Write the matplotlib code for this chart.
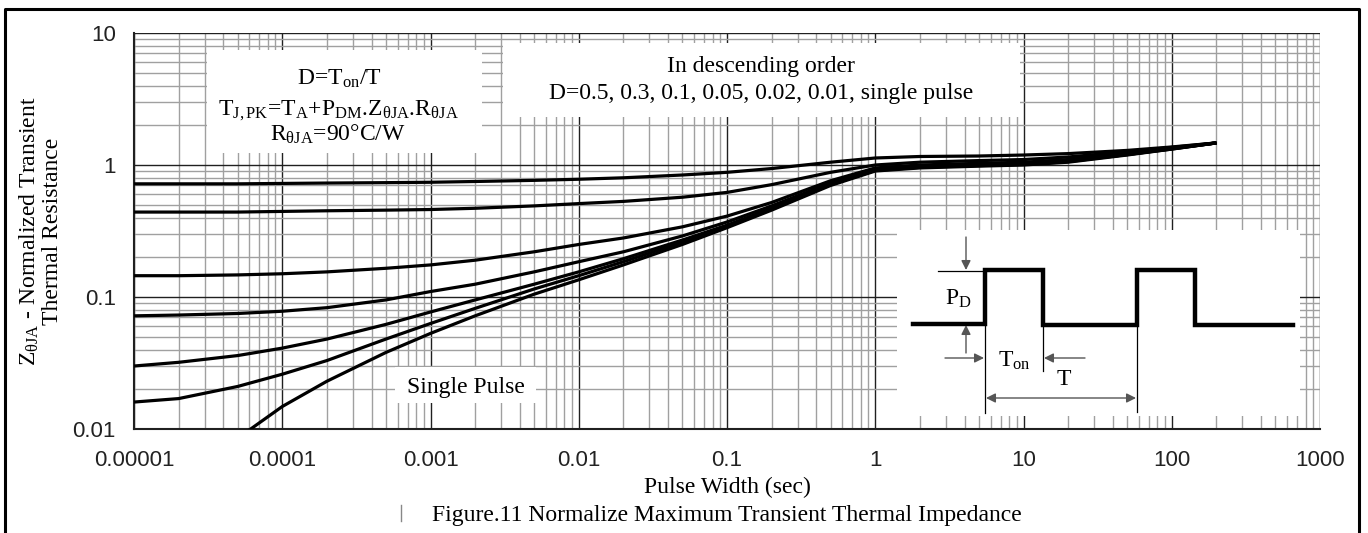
import numpy as np
import matplotlib.pyplot as plt
from matplotlib.patches import Rectangle
from matplotlib.lines import Line2D
from matplotlib.ticker import LogLocator, NullFormatter, FixedLocator, FixedFormatter

plt.rcParams['mathtext.fontset'] = 'custom'
plt.rcParams['mathtext.rm'] = 'Liberation Serif'
plt.rcParams['mathtext.it'] = 'Liberation Serif:italic'
plt.rcParams['mathtext.bf'] = 'Liberation Serif:bold'

# ---- data ----
pulse_width = [1e-5, 2e-5, 5e-5, 1e-4, 2e-4, 5e-4, 1e-3, 2e-3, 5e-3, 1e-2, 2e-2, 5e-2,
               0.1, 0.2, 0.5, 1, 2, 5, 10, 20, 50, 100, 200]
z_d050 = [0.72, 0.72, 0.72, 0.725, 0.73, 0.735, 0.74, 0.75, 0.765, 0.78, 0.80, 0.84,
          0.88, 0.94, 1.05, 1.13, 1.16, 1.17, 1.19, 1.22, 1.29, 1.37, 1.47]
z_d030 = [0.44, 0.44, 0.44, 0.445, 0.45, 0.455, 0.46, 0.47, 0.49, 0.51, 0.53, 0.57,
          0.62, 0.71, 0.88, 1.0, 1.05, 1.08, 1.1, 1.15, 1.26, 1.36, 1.47]
z_d010 = [0.145, 0.145, 0.147, 0.15, 0.155, 0.165, 0.175, 0.19, 0.22, 0.25, 0.28, 0.34,
          0.41, 0.52, 0.76, 0.95, 1.0, 1.03, 1.05, 1.1, 1.23, 1.34, 1.47]
z_d005 = [0.072, 0.073, 0.075, 0.078, 0.083, 0.095, 0.11, 0.125, 0.155, 0.185, 0.22, 0.29,
          0.37, 0.49, 0.73, 0.93, 0.98, 1.01, 1.03, 1.08, 1.21, 1.33, 1.47]
z_d002 = [0.030, 0.032, 0.036, 0.041, 0.048, 0.062, 0.077, 0.095, 0.125, 0.155, 0.195, 0.27,
          0.35, 0.47, 0.72, 0.92, 0.97, 1.0, 1.02, 1.07, 1.2, 1.33, 1.47]
z_d001 = [0.016, 0.017, 0.021, 0.026, 0.033, 0.048, 0.063, 0.082, 0.115, 0.145, 0.185, 0.26,
          0.345, 0.465, 0.71, 0.91, 0.96, 0.99, 1.01, 1.06, 1.2, 1.32, 1.47]
z_single = [0.0045, 0.006, 0.0085, 0.0148, 0.023, 0.038, 0.053, 0.072, 0.105, 0.135, 0.175, 0.25,
            0.335, 0.455, 0.70, 0.90, 0.95, 0.98, 1.0, 1.05, 1.19, 1.32, 1.47]
curves = [z_d050, z_d030, z_d010, z_d005, z_d002, z_d001, z_single]

x_ticks = [1e-5, 1e-4, 1e-3, 1e-2, 1e-1, 1, 10, 100, 1000]
x_labels = ['0.00001', '0.0001', '0.001', '0.01', '0.1', '1', '10', '100', '1000']
y_ticks = [0.01, 0.1, 1, 10]
y_labels = ['0.01', '0.1', '1', '10']

W, H = 1368, 533
L, R, T, B = 134, 1320, 33, 429
serif = 'Liberation Serif'
sans = 'Liberation Sans'


def fx(px):
    return px / W


def fy(py):
    return 1 - py / H


fig = plt.figure(figsize=(W / 100, H / 100), dpi=100)
ax = fig.add_axes([fx(L), fy(B), (R - L) / W, (B - T) / H])
ax.set_xscale('log')
ax.set_yscale('log')
ax.set_xlim(1e-5, 1000)
ax.set_ylim(0.01, 10)

ax.xaxis.set_major_locator(FixedLocator(x_ticks))
ax.xaxis.set_major_formatter(FixedFormatter(x_labels))
ax.yaxis.set_major_locator(FixedLocator(y_ticks))
ax.yaxis.set_major_formatter(FixedFormatter(y_labels))
for a in (ax.xaxis, ax.yaxis):
    a.set_minor_locator(LogLocator(base=10, subs=np.arange(2, 10), numticks=100))
    a.set_minor_formatter(NullFormatter())
ax.tick_params(which='both', length=0)
ax.tick_params(axis='x', pad=15, labelsize=16, labelcolor='#222222')
ax.tick_params(axis='y', pad=13, labelsize=16, labelcolor='#222222')
for lab in ax.get_xticklabels() + ax.get_yticklabels():
    lab.set_fontfamily(sans)

ax.set_axisbelow(True)
ax.grid(which='minor', color='#a0a0a0', lw=1.0)
ax.grid(which='major', color='#202020', lw=1.0)
for s in ('top', 'right'):
    ax.spines[s].set_visible(False)
for s in ('left', 'bottom'):
    ax.spines[s].set_linewidth(1.5)
    ax.spines[s].set_color('#202020')


def white_box(x0, y0, x1, y1):
    # pixel rectangle -> axes fraction
    ax.add_patch(Rectangle(((x0 - L) / (R - L), (B - y1) / (B - T)),
                           (x1 - x0) / (R - L), (y1 - y0) / (B - T),
                           transform=ax.transAxes, facecolor='white',
                           edgecolor='none', zorder=1))


white_box(207, 50, 482, 153)
white_box(503, 43, 1020, 117)
white_box(395, 367, 536, 403)

for z in curves:
    ax.plot(pulse_width, z, color='black', lw=2.3, zorder=3, solid_capstyle='butt')

fs = 17
fig.text(fx(339), fy(85), r'D=T$_\mathrm{on}$/T', ha='center', va='baseline',
         fontsize=fs, family=serif)
fig.text(fx(338), fy(115),
         r'T$_\mathrm{J,PK}$=T$_\mathrm{A}$+P$_\mathrm{DM}$.Z$_\mathrm{θJA}$.R$_\mathrm{θJA}$',
         ha='center', va='baseline', fontsize=fs, family=serif)
fig.text(fx(338), fy(141), r'R$_\mathrm{θJA}$=90°C/W', ha='center', va='baseline',
         fontsize=fs, family=serif)
fig.text(fx(761), fy(72), 'In descending order', ha='center', va='baseline',
         fontsize=fs, family=serif)
fig.text(fx(761), fy(99), 'D=0.5, 0.3, 0.1, 0.05, 0.02, 0.01, single pulse',
         ha='center', va='baseline', fontsize=fs, family=serif)
fig.text(fx(466), fy(393), 'Single Pulse', ha='center', va='baseline',
         fontsize=fs, family=serif)

fig.text(fx(40), fy(231), 'Z$_\\mathrm{θJA}$ - Normalized Transient\nThermal Resistance',
         rotation=90, ha='center', va='center', multialignment='center',
         fontsize=fs, family=serif, linespacing=1.05)
fig.text(fx(727), fy(487), 'Pulse Width (sec)', ha='center', va='center',
         fontsize=fs, family=serif)
fig.text(fx(727), fy(515), 'Figure.11 Normalize Maximum Transient Thermal Impedance',
         ha='center', va='center', fontsize=fs, family=serif)
fig.add_artist(Line2D([fx(401), fx(401)], [fy(505), fy(521)], color='#888888', lw=1))

# outer frame
fig.add_artist(Line2D([fx(5), fx(5), fx(1359), fx(1359)], [0, fy(9), fy(9), 0],
                      color='black', lw=2.2))

# ---- inset pulse diagram (its own pixel-like coordinate system) ----
ix0, ix1, iy0, iy1 = 897, 1300, 230, 416
ins = fig.add_axes([fx(ix0), fy(iy1), (ix1 - ix0) / W, (iy1 - iy0) / H])
ins.set_xlim(ix0, ix1)
ins.set_ylim(iy1, iy0)
ins.set_facecolor('white')
ins.set_xticks([])
ins.set_yticks([])
for s in ins.spines.values():
    s.set_visible(False)

wave_x = [913, 985, 985, 1043, 1043, 1137, 1137, 1195, 1195, 1293]
wave_y = [324, 324, 270, 270, 325, 325, 270, 270, 325, 325]
ins.plot(wave_x, wave_y, color='black', lw=3.2, solid_joinstyle='miter')

thin = dict(color='black', lw=0.9)
ins.plot([938, 984], [271, 271], **thin)
ins.plot([985, 985], [325, 413], **thin)
ins.plot([1043, 1043], [325, 371], **thin)
ins.plot([1137, 1137], [325, 412], **thin)

arr = dict(arrowstyle='-|>', color='#555555', lw=1.0, mutation_scale=14, shrinkA=0, shrinkB=0)
ins.annotate('', xy=(966, 270), xytext=(966, 237), arrowprops=arr)
ins.annotate('', xy=(966, 325), xytext=(966, 353), arrowprops=arr)
ins.annotate('', xy=(984, 358), xytext=(945, 358), arrowprops=arr)
ins.annotate('', xy=(1044, 358), xytext=(1085, 358), arrowprops=arr)
ins.annotate('', xy=(986, 398), xytext=(1136, 398),
             arrowprops=dict(arrowstyle='<|-|>', color='#555555', lw=1.0,
                             mutation_scale=14, shrinkA=0, shrinkB=0))

ins.text(945, 305, r'P$_\mathrm{D}$', ha='left', va='baseline', fontsize=fs, family=serif)
ins.text(998, 367, r'T$_\mathrm{on}$', ha='left', va='baseline', fontsize=fs, family=serif)
ins.text(1057, 385, 'T', ha='left', va='baseline', fontsize=fs, family=serif)

fig.savefig('out.png', dpi=100, facecolor='white')
